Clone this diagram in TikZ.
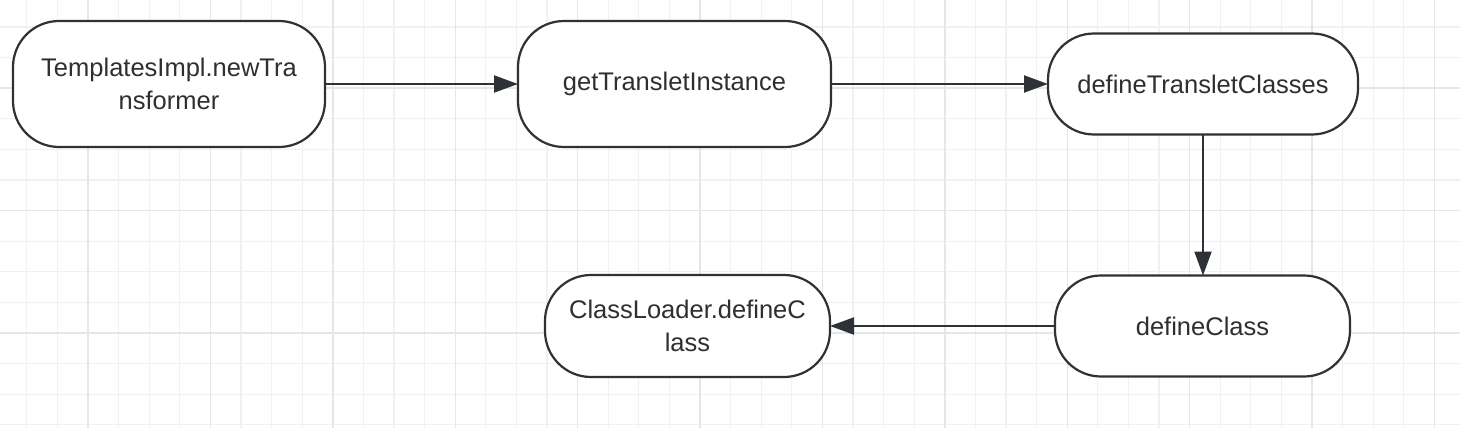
\documentclass[tikz,border=0pt]{standalone}
\usepackage{fontspec}
\setmainfont{Liberation Sans}
\usetikzlibrary{arrows.meta}
\definecolor{edgec}{HTML}{2E3236}
\definecolor{txtc}{HTML}{2F2F2F}
\definecolor{minorg}{HTML}{F1F1F1}
\definecolor{majorg}{HTML}{E6E6E6}
\tikzset{
  term/.style={draw=edgec, line width=2.2pt, fill=white, rounded corners=46pt,
    text=txtc, font=\fontsize{25.5}{33}\selectfont, align=center,
    inner sep=0pt, outer sep=0pt},
  flow/.style={draw=edgec, line width=2pt, -{Triangle[length=24pt,width=17pt]}},
}
\begin{document}
\begin{tikzpicture}[x=1pt,y=-1pt]
\useasboundingbox (0,0) rectangle (1460,428);
\fill[white] (0,0) rectangle (1460,428);
% grid
\foreach \i in {0,...,48} {
  \pgfmathsetmacro{\gx}{-3.8+30.6*\i}
  \draw[minorg, line width=1.2pt] (\gx,0) -- (\gx,428);
}
\foreach \i in {0,...,14} {
  \pgfmathsetmacro{\gy}{-3.6+30.6*\i}
  \draw[minorg, line width=1.2pt] (0,\gy) -- (1460,\gy);
}
\foreach \i in {0,...,12} {
  \pgfmathsetmacro{\gx}{88-122.4+122.4*\i}
  \draw[majorg, line width=1.4pt] (\gx,0) -- (\gx,428);
}
\foreach \i in {0,...,3} {
  \pgfmathsetmacro{\gy}{88.2-122.4+122.4*\i}
  \draw[majorg, line width=1.4pt] (0,\gy) -- (1460,\gy);
}
% nodes
\node[term, minimum width=312pt, minimum height=126pt] (n1) at (169,84) {TemplatesImpl.newTra\\nsformer};
\node[term, minimum width=313pt, minimum height=126pt] (n2) at (674.5,84) {getTransletInstance};
\node[term, minimum width=310pt, minimum height=101pt] (n3) at (1203,84) {defineTransletClasses};
\node[term, minimum width=295pt, minimum height=101pt] (n4) at (1202.5,326) {defineClass};
\node[term, minimum width=285pt, minimum height=102pt] (n5) at (687.5,326) {ClassLoader.defineC\\lass};
% connectors
\draw[flow] (n1.east) -- (n2.west);
\draw[flow] (n2.east) -- (n3.west);
\draw[flow] (n3.south) -- (n3.south |- n4.north);
\draw[flow] (n4.west) -- (n5.east);
\end{tikzpicture}
\end{document}
